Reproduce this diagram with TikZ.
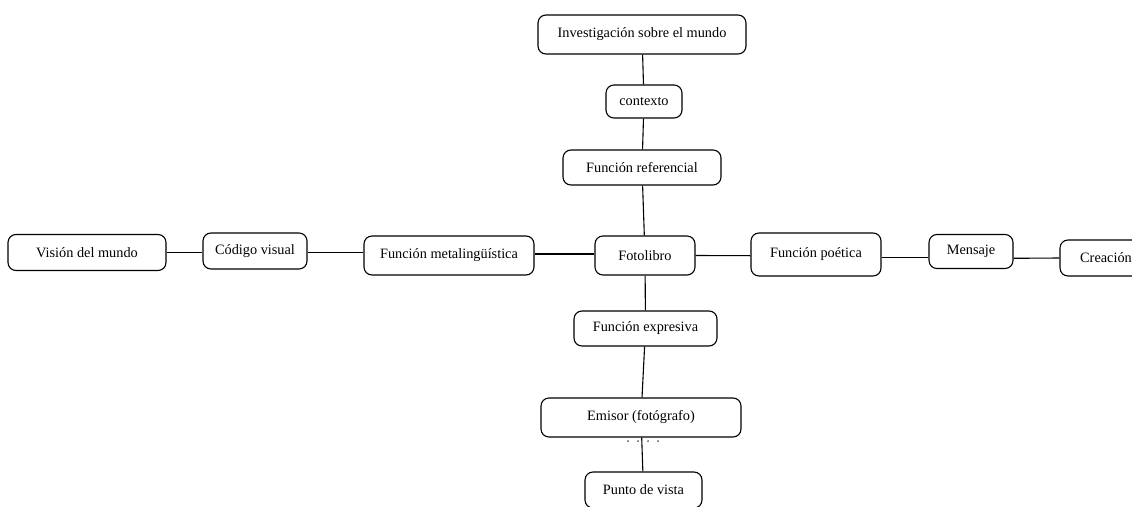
\documentclass[tikz,border=0pt]{standalone}
\usepackage{fontspec}
\setmainfont{Liberation Serif}
\begin{document}
\begin{tikzpicture}[
  box/.style={draw, rounded corners=8pt, line width=1.1pt, inner sep=0pt,
    font=\fontsize{14.3}{17}\selectfont, align=center},
  link/.style={line width=1.1pt},
  dotmark/.style={fill=black}
]
\useasboundingbox (0,0) rectangle (1132pt,-506pt);
\clip (0,0) rectangle (1132pt,-506pt);
\node[box, minimum width=208pt, minimum height=39pt] (inv) at (642pt,-34.5pt) {Investigación sobre el mundo};
\node[box, minimum width=76pt, minimum height=33pt] (ctx) at (644pt,-101.5pt) {contexto};
\node[box, minimum width=158pt, minimum height=35pt] (ref) at (642pt,-167.5pt) {Función referencial};
\node[box, minimum width=158pt, minimum height=36pt] (vis) at (87pt,-252.5pt) {Visión del mundo};
\node[box, minimum width=104pt, minimum height=36pt] (cod) at (255pt,-251pt) {Código visual};
\node[box, minimum width=170pt, minimum height=39pt] (met) at (449pt,-255.5pt) {Función metalingüística};
\node[box, minimum width=100pt, minimum height=39pt] (foto) at (645pt,-255.5pt) {Fotolibro};
\node[box, minimum width=130pt, minimum height=43pt] (poe) at (816pt,-254.5pt) {Función poética};
\node[box, minimum width=84pt, minimum height=34pt] (men) at (971pt,-251.5pt) {Mensaje};
\node[box, minimum width=92pt, minimum height=36pt] (cre) at (1106pt,-258pt) {Creación};
\node[box, minimum width=143pt, minimum height=35pt] (exp) at (645.5pt,-328.5pt) {Función expresiva};
\node[box, minimum width=200pt, minimum height=39pt] (emi) at (641pt,-417.5pt) {Emisor (fotógrafo)};
\node[box, minimum width=117pt, minimum height=36pt] (pun) at (643.5pt,-490pt) {Punto de vista};

\draw[link] (inv) -- (ctx);
\draw[link] (ctx) -- (ref);
\draw[link] (ref) -- (foto);
\draw[link] (foto) -- (exp);
\draw[link] (exp) -- (emi);
\draw[link] (emi) -- (pun);
\draw[link] (vis.east) -- ([yshift=-1.5pt]cod.west);
\draw[link] ([yshift=-1.3pt]cod.east) -- ([yshift=3.2pt]met.west);
\draw[link] ([yshift=1.5pt]met.east) -- ([yshift=1.5pt]foto.west);
\draw[link] (foto.east) -- ([yshift=-1.2pt]poe.west);
\draw[link] ([yshift=-2.8pt]poe.east) -- ([yshift=-5.8pt]men.west);
\draw[link] ([yshift=-6.8pt]men.east) -- (cre.west);

\foreach \dx in {-13pt,-3pt,7pt,17pt}
  \fill[dotmark] ([shift={(\dx,-3.5pt)}]emi.south) circle (0.8pt);
\end{tikzpicture}
\end{document}
